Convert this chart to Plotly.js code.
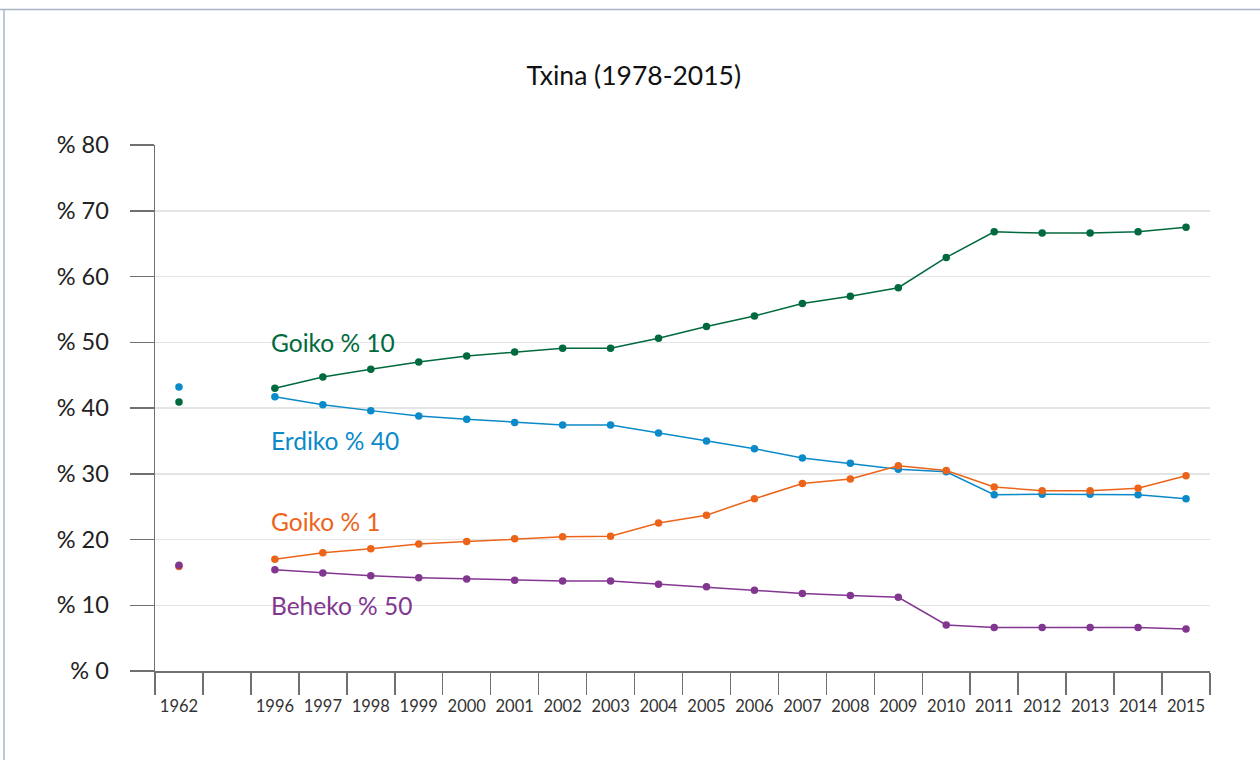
<!DOCTYPE html>
<html>
<head>
<meta charset="utf-8">
<script src="https://cdn.plot.ly/plotly-3.0.1.min.js"></script>
<style>html,body{margin:0;padding:0;background:#fff;}#chart{width:1260px;height:760px;}</style>
</head>
<body>
<div id="chart"></div>
<script>
const categories = ["1962", " ", "1996", "1997", "1998", "1999", "2000", "2001", "2002", "2003", "2004", "2005", "2006", "2007", "2008", "2009", "2010", "2011", "2012", "2013", "2014", "2015"];
const goiko10 = [40.9, null, 43.0, 44.7, 45.9, 47.0, 47.9, 48.5, 49.1, 49.1, 50.6, 52.4, 54.0, 55.9, 57.0, 58.3, 62.9, 66.8, 66.6, 66.6, 66.8, 67.5];
const erdiko40 = [43.2, null, 41.7, 40.5, 39.6, 38.8, 38.3, 37.8, 37.4, 37.4, 36.2, 35.0, 33.8, 32.4, 31.6, 30.7, 30.3, 26.8, 26.9, 26.9, 26.8, 26.2];
const goiko1 = [15.9, null, 17.0, 18.0, 18.6, 19.3, 19.7, 20.1, 20.4, 20.5, 22.5, 23.7, 26.2, 28.5, 29.2, 31.2, 30.5, 28.0, 27.4, 27.4, 27.8, 29.7];
const beheko50 = [16.1, null, 15.4, 14.9, 14.5, 14.2, 14.0, 13.8, 13.7, 13.7, 13.2, 12.8, 12.3, 11.8, 11.5, 11.2, 7.0, 6.6, 6.6, 6.6, 6.6, 6.4];
const seriesNames = ["Goiko % 10", "Erdiko % 40", "Goiko % 1", "Beheko % 50"];
const seriesLabelY = [50.0, 35.1, 22.8, 9.9];
const labelCategory = "1996";
const yTickVals = [0, 10, 20, 30, 40, 50, 60, 70, 80];
const yTickText = ["% 0", "% 10", "% 20", "% 30", "% 40", "% 50", "% 60", "% 70", "% 80"];
const titleText = "Txina (1978-2015)";

const colors = ["#00693e", "#0a8ac8", "#ec6419", "#82368f"];
const allSeries = [goiko10, erdiko40, goiko1, beheko50];
const FONT = "Lato, 'Open Sans', sans-serif";

const traces = allSeries.map((ys, i) => ({
  type: "scatter",
  mode: "lines+markers",
  x: categories,
  y: ys,
  name: seriesNames[i],
  connectgaps: false,
  line: {color: colors[i], width: 1.5},
  marker: {color: colors[i], size: 7.5},
  hoverinfo: "x+y+name"
}));

const M = {l: 155, r: 50, t: 145, b: 89};
const W = 1260, H = 760;
const pw = W - M.l - M.r, ph = H - M.t - M.b;
const px = v => (v - M.l) / pw;
const py = v => (H - M.b - v) / ph;
const frameColor = "#a9b7c5";

const annotations = seriesNames.map((n, i) => ({
  x: categories.indexOf(labelCategory), y: seriesLabelY[i], xref: "x", yref: "y",
  text: n, showarrow: false, xanchor: "left", yanchor: "middle", xshift: -6,
  font: {family: FONT, size: 24.5, color: colors[i]}
}));

const layout = {
  width: W, height: H,
  margin: M,
  paper_bgcolor: "#ffffff",
  plot_bgcolor: "#ffffff",
  showlegend: false,
  font: {family: FONT, color: "#222"},
  title: {
    text: titleText, x: 0.503, xanchor: "center", y: 1 - 76 / H, yanchor: "middle",
    yref: "container", font: {size: 26.5, color: "#111", family: FONT}
  },
  xaxis: {
    type: "category",
    categoryorder: "array",
    categoryarray: categories,
    tickvals: categories,
    ticktext: categories,
    range: [-0.5, categories.length - 0.5],
    tickson: "boundaries",
    tickangle: 0,
    ticks: "outside", ticklen: 22, tickwidth: 1.5, tickcolor: "#707070",
    ticklabelstandoff: 20,
    showline: true, linecolor: "#707070", linewidth: 1.5,
    showgrid: false, zeroline: false,
    tickfont: {size: 16.5, color: "#333"},
    fixedrange: true
  },
  yaxis: {
    range: [0, 80],
    tickvals: yTickVals, ticktext: yTickText,
    ticks: "outside", ticklen: 24, tickwidth: 1.5, tickcolor: "#707070",
    ticklabelstandoff: 16,
    showline: true, linecolor: "#707070", linewidth: 1.5,
    showgrid: true, gridcolor: "#e4e4e4", gridwidth: 1.5,
    zeroline: false,
    tickfont: {size: 23.5, color: "#222"},
    fixedrange: true
  },
  annotations: annotations,
  shapes: [
    {type: "line", xref: "paper", yref: "paper", x0: px(0), x1: px(W), y0: py(9.5), y1: py(9.5), line: {color: frameColor, width: 1.5}},
    {type: "line", xref: "paper", yref: "paper", x0: px(4), x1: px(4), y0: py(9.5), y1: py(H), line: {color: frameColor, width: 1.5}}
  ]
};

Plotly.newPlot("chart", traces, layout, {displayModeBar: false, staticPlot: true});
</script>
</body>
</html>
